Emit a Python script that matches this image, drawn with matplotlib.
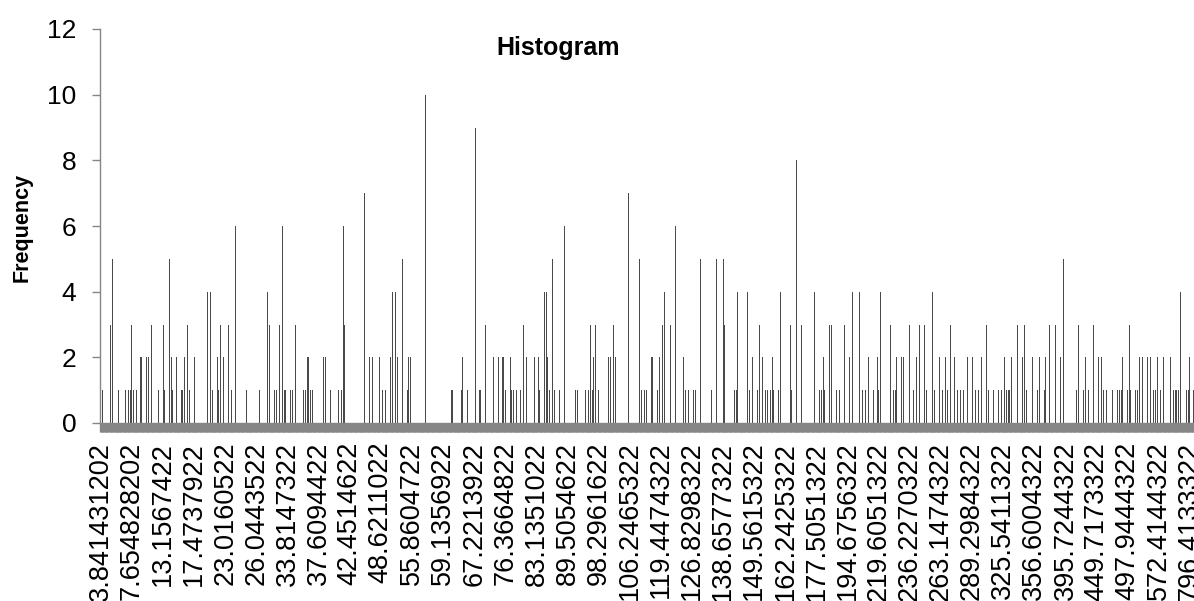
import numpy as np
import matplotlib
matplotlib.use('Agg')
import matplotlib.pyplot as plt

plt.rcParams['font.family'] = ['Liberation Sans', 'DejaVu Sans']

# number of histogram bins (categories on the x axis)
n_bins = 668

# non-empty bins: bin position and frequency
bin_index = [
    0, 1, 6, 7, 11, 15, 17, 18, 19, 20, 22, 24, 25, 27, 28, 29, 31, 35, 38, 39,
    42, 43, 44, 46, 49, 50, 51, 53, 54, 57, 65, 67, 68, 71, 72, 73, 74, 75, 78, 80,
    82, 89, 96, 97, 99, 102, 103, 106, 107, 109,
    110, 111, 112, 113, 116, 117, 119, 121, 124, 125, 126, 127, 128, 129, 132,
    136, 137, 140, 143, 145, 147, 148, 149, 161, 164, 166, 168, 170, 172, 174,
    177, 178, 180, 181, 184, 187, 188, 189, 190, 198, 201, 212, 214, 215,
    220, 221, 223, 224, 229, 231, 232, 235, 240, 243, 245, 246, 247, 248, 250,
    251, 252, 254, 256, 258, 260, 265, 267, 268, 271, 272, 273, 274, 276, 277,
    280, 283, 290, 291, 296, 298, 299, 300, 301, 302, 304, 306, 310, 311, 313,
    314, 322, 329,
    330, 332, 333, 336, 337, 340, 341, 343, 344, 348, 351, 356, 357, 359, 362,
    363, 364, 366, 373, 376, 380, 381, 387, 388, 389, 395, 396, 398, 401, 402,
    404, 406, 407, 408, 409, 410, 411, 414, 415, 421, 422, 425, 428, 436,
    439, 440, 441, 442, 444, 445, 446, 449, 451, 454, 457, 459, 463, 465, 466,
    467, 469, 472, 474, 475, 476, 477, 482, 484, 485, 486, 488, 489, 490, 494,
    496, 498, 500, 503, 504, 508, 509, 512, 514, 516, 517, 519, 521, 523, 524,
    525, 527, 529, 532, 534, 535, 536, 538, 541, 542, 545, 546, 548,
    550, 552, 553, 554, 555, 556, 557, 560, 563, 564, 565, 569, 571, 572, 573,
    576, 577, 579, 582, 583, 586, 588, 593, 596, 597, 600, 601, 603, 604, 606,
    609, 611, 612, 614, 615, 618, 621, 622, 623, 624, 626, 627, 628, 629, 632,
    633, 634, 636, 637, 639, 641, 643, 644, 645, 647, 649, 651, 653, 655, 656,
    657, 658, 659, 663, 664, 665, 667,
]
bin_count = [
    11, 1, 3, 5, 1, 1, 1, 1, 3, 1, 1, 2, 2, 2, 2, 2, 3, 1, 3, 1,
    5, 2, 1, 2, 1, 1, 2, 3, 1, 2, 4, 4, 1, 2, 1, 3, 2, 2, 3, 1,
    6, 1, 5, 1, 1, 4, 3, 1, 1, 3,
    1, 6, 1, 1, 1, 1, 3, 2, 1, 1, 2, 2, 1, 1, 3,
    2, 2, 1, 2, 1, 1, 6, 3, 7, 2, 2, 2, 2, 1, 1,
    2, 4, 4, 2, 5, 1, 2, 2, 1, 10, 4, 3, 1, 1,
    1, 2, 4, 1, 9, 1, 1, 3, 2, 2, 2, 2, 1, 5, 2,
    1, 1, 1, 1, 3, 2, 2, 2, 1, 4, 4, 2, 1, 5, 1,
    1, 6, 1, 1, 1, 1, 3, 1, 2, 3, 1, 3, 2, 2, 3,
    2, 7, 5,
    1, 1, 1, 2, 2, 1, 2, 3, 4, 3, 6, 2, 1, 1, 1,
    1, 4, 5, 1, 5, 5, 3, 1, 1, 4, 4, 1, 2, 1, 3,
    2, 1, 1, 2, 1, 2, 1, 1, 4, 3, 1, 8, 3, 4,
    1, 1, 2, 1, 1, 3, 3, 1, 1, 3, 2, 4, 4, 1, 1,
    1, 2, 1, 2, 1, 4, 2, 3, 1, 1, 2, 1, 2, 2, 3,
    1, 2, 3, 3, 1, 4, 1, 2, 1, 2, 1, 3, 2, 1, 3,
    1, 1, 2, 2, 1, 3, 1, 2, 3, 1, 1, 4, 1,
    1, 2, 1, 1, 1, 2, 1, 3, 2, 3, 1, 2, 2, 1, 2,
    1, 2, 3, 1, 3, 2, 5, 3, 1, 3, 1, 2, 1, 2, 3,
    2, 2, 1, 1, 5, 1, 1, 1, 1, 2, 1, 1, 3, 1, 1,
    1, 2, 2, 1, 2, 2, 1, 1, 2, 1, 2, 2, 2, 1, 1,
    1, 1, 4, 1, 1, 2, 1,
]
assert len(bin_index) == len(bin_count)

# bin labels shown on the axis (every 19th bin)
label_step = 19
tick_labels = [
    '3.841431202', '7.654828202', '13.1567422', '17.4737922', '23.0160522',
    '26.0443522', '33.8147322', '37.6094422', '42.4514622', '48.6211022',
    '55.8604722', '59.1356922', '67.2213922', '76.3664822', '83.1351022',
    '89.5054622', '98.2961622', '106.2465322', '119.4474322', '126.8298322',
    '138.6577322', '149.5615322', '162.2425322', '177.5051322', '194.6756322',
    '219.6051322', '236.2270322', '263.1474322', '289.2984322', '325.5411322',
    '356.6004322', '395.7244322', '449.7173322', '497.9444322', '572.4144322',
    '796.4133322',
]

freq = np.zeros(n_bins)
freq[bin_index] = bin_count
pos = np.arange(n_bins)

GRAY = '#868686'

fig = plt.figure(figsize=(11.94, 6.01), dpi=100)
ax = fig.add_axes([100 / 1194, (601 - 423) / 601, 1094 / 1194, (423 - 29) / 601])

ax.bar(pos, freq, width=0.55, color='#4a4a4a', linewidth=0)

ax.set_xlim(-0.5, n_bins - 0.5)
ax.set_ylim(0, 12)
ax.set_yticks(np.arange(0, 13, 2))

ax.set_xticks(np.arange(len(tick_labels)) * label_step)
ax.set_xticklabels(tick_labels, rotation=90, fontsize=19.5, va='top', ha='center')
ax.set_xticks(pos, minor=True)

for s in ['top', 'right']:
    ax.spines[s].set_visible(False)
for s in ['left', 'bottom']:
    ax.spines[s].set_color(GRAY)
    ax.spines[s].set_linewidth(1.0)

# one tick per bin -> dense grey band under the axis
ax.tick_params(axis='x', which='both', direction='out', length=6.5,
               width=2.4, color=GRAY, pad=7)
ax.tick_params(axis='y', direction='out', length=6, width=1.0, color=GRAY,
               labelsize=19, pad=11)

fig.text(558 / 1194, 1 - 48 / 601, 'Histogram', ha='center', va='center',
         fontsize=18, fontweight='bold')
fig.text(22 / 1194, 1 - 227 / 601, 'Frequency', ha='center', va='center',
         rotation=90, fontsize=15.5, fontweight='bold')

fig.savefig('out.png', dpi=100, facecolor='white')
